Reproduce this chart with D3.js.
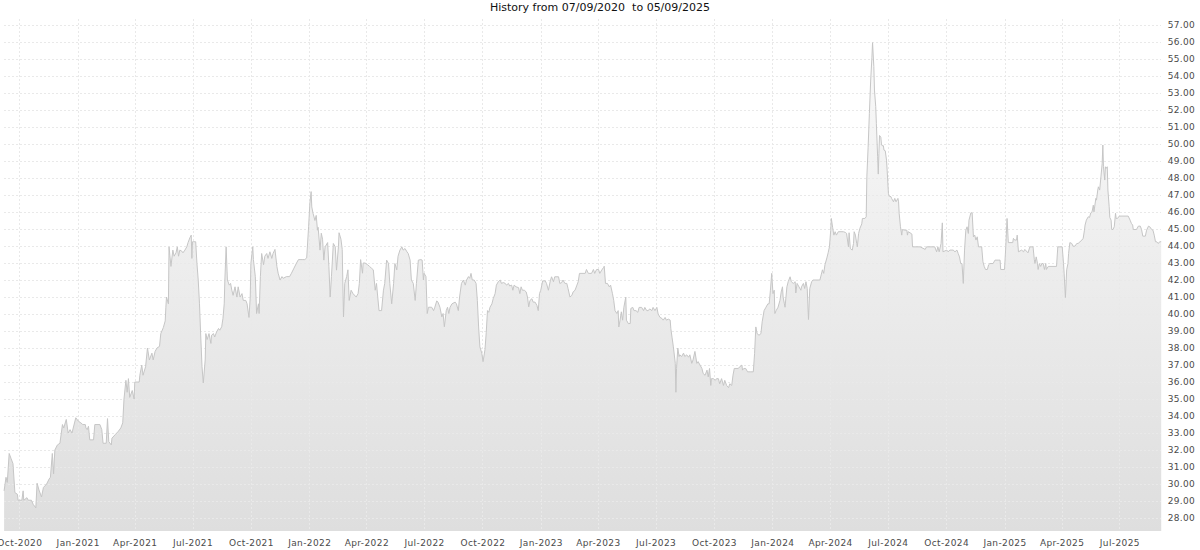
<!DOCTYPE html>
<html>
<head>
<meta charset="utf-8">
<script src="https://cdn.jsdelivr.net/npm/d3@7"></script>
<style>
html, body { margin: 0; padding: 0; background: #ffffff; }
svg { display: block; font-family: "DejaVu Sans", sans-serif; }
</style>
</head>
<body>
<svg id="chart" width="1200" height="550"></svg>
<script>
// ---------------- data ----------------
const title = "History from 07/09/2020  to 05/09/2025";
const startDate = "2020-09-07";
const endDate = "2025-09-05";

// days elapsed since startDate
const days = [
  0,3,5,8,11,14,17,21,22,28,30,31,36,38,43,46,50,52,55,59,62,67,71,73,76,78,80,84,88,92,
  94,98,101,104,107,113,117,121,124,128,129,131,133,135,141,143,151,154,156,161,163,165,169,170,175,180,184,187,189,192,
  194,196,198,202,205,206,213,214,217,219,223,226,229,233,235,238,241,245,247,251,254,255,256,259,260,263,266,268,271,273,
  275,277,280,282,285,288,290,293,295,296,297,302,304,306,308,310,312,314,317,318,320,323,326,327,330,332,335,338,340,343,
  345,347,348,350,352,355,357,359,361,364,367,369,372,375,377,381,383,386,388,389,392,393,396,398,401,402,404,406,409,411,
  414,416,419,422,424,427,430,432,435,438,440,445,450,453,457,461,464,468,471,474,477,480,482,484,485,487,490,492,494,495,
  498,500,502,504,506,510,512,514,516,519,522,524,527,528,531,533,535,537,540,542,544,547,550,555,558,560,562,565,566,569,
  573,576,579,582,585,587,591,595,598,600,603,606,608,611,614,616,619,621,624,627,629,632,635,637,640,642,645,648,650,653,
  657,659,661,662,665,667,669,674,677,679,682,684,687,690,692,694,697,699,701,703,706,711,713,716,718,721,724,727,729,732,
  734,736,738,741,744,746,748,750,753,755,758,760,762,764,766,769,771,774,776,779,782,784,787,790,792,795,797,800,802,804,
  807,811,813,815,817,820,823,825,827,829,832,834,837,840,842,844,846,849,853,855,858,861,863,866,868,874,876,879,881,884,
  887,889,892,895,897,900,903,905,907,916,918,921,926,929,931,934,937,939,942,945,946,948,951,954,956,959,961,963,966,968,
  969,971,973,975,977,980,981,984,987,988,991,993,996,999,1001,1005,1008,1010,1013,1015,1018,1021,1023,1026,1029,1031,1034,1037,1039,1042,
  1044,1047,1050,1051,1053,1055,1058,1059,1060,1062,1064,1065,1068,1071,1073,1076,1079,1081,1084,1086,1089,1092,1094,1097,1100,1102,1105,1108,1110,1112,
  1114,1115,1118,1121,1123,1126,1128,1131,1134,1136,1139,1142,1144,1147,1149,1151,1157,1160,1163,1164,1166,1169,1172,1176,1181,1183,1185,1187,1190,1193,
  1195,1198,1201,1204,1206,1208,1210,1212,1214,1215,1217,1220,1223,1225,1227,1228,1230,1231,1234,1236,1239,1241,1244,1247,1248,1250,1253,1256,1257,1260,
  1262,1264,1266,1268,1270,1273,1275,1286,1288,1290,1292,1294,1297,1299,1301,1303,1304,1306,1308,1310,1312,1315,1323,1326,1328,1331,1332,1334,1337,1339,
  1340,1342,1344,1345,1347,1349,1352,1353,1357,1359,1360,1362,1364,1366,1368,1369,1371,1372,1374,1375,1377,1378,1379,1380,1382,1383,1384,1386,1387,1389,
  1391,1392,1394,1395,1398,1399,1402,1404,1406,1409,1410,1411,1413,1415,1416,1420,1423,1424,1425,1428,1431,1432,1444,1452,1454,1467,1470,1472,1474,1477,
  1479,1480,1486,1488,1491,1496,1499,1502,1504,1506,1508,1510,1512,1514,1516,1518,1520,1521,1524,1526,1528,1530,1532,1534,1536,1541,1543,1545,1547,1550,
  1552,1554,1559,1562,1567,1570,1571,1577,1579,1581,1583,1590,1591,1593,1596,1597,1599,1604,1607,1609,1614,1617,1622,1624,1625,1627,1629,1630,1632,1634,
  1636,1638,1640,1642,1643,1646,1659,1661,1668,1670,1671,1673,1675,1677,1678,1680,1683,1685,1688,1691,1693,1696,1699,1701,1703,1704,1706,1709,1711,1713,
  1715,1717,1718,1721,1722,1724,1725,1727,1729,1731,1732,1733,1735,1736,1737,1739,1740,1742,1743,1745,1746,1748,1750,1752,1753,1755,1758,1772,1775,1777,
  1779,1780,1785,1788,1791,1793,1795,1799,1801,1804,1806,1809,1811,1813,1815,1817,1819,1822,1824
];

// closing prices
const prices = [
  29.6,30.4,30.1,31.8,31.5,31.2,29.5,29.4,29.05,29.05,29.6,29.05,29.2,29.05,29.05,28.8,28.6,30.05,29.65,29.24,29.8,30.0,30.3,30.4,31.8,30.6,32.0,32.3,32.4,33.5,
  33.3,33.8,33.0,33.2,33.0,33.9,33.7,33.6,33.5,33.5,33.3,33.2,33.4,32.6,32.6,33.5,33.5,33.2,32.4,32.4,33.85,32.5,32.3,32.7,32.9,33.1,33.3,33.6,35.0,36.1,
  35.4,36.2,35.1,35.5,35.0,36.0,36.0,36.4,37.0,36.4,36.9,38.0,37.3,37.7,37.3,37.8,38.0,38.1,38.85,39.2,39.6,40.4,41.0,40.6,43.95,42.8,43.76,43.4,43.6,43.95,
  43.4,43.76,43.7,43.6,43.76,43.95,44.2,44.5,44.64,43.27,44.25,44.25,42.97,42.0,40.6,38.65,36.9,35.95,37.3,38.85,38.5,38.85,38.27,38.75,38.85,38.65,38.95,39.15,39.05,39.25,
  39.74,40.6,42.0,43.95,42.0,41.7,41.8,41.4,41.1,41.6,41.0,41.6,41.0,41.2,40.8,40.8,40.6,39.8,41.0,42.97,43.95,43.2,42.2,40.03,40.6,40.03,42.2,43.56,42.9,43.4,
  43.56,43.27,43.66,43.27,43.56,43.8,42.8,42.4,42.0,42.2,42.1,42.2,42.2,42.4,42.7,43.0,43.2,43.2,43.2,43.2,43.3,45.13,46.5,47.2,46.3,45.92,45.5,45.8,44.93,45.1,
  43.76,44.75,44.4,43.17,43.95,44.2,42.8,41.0,42.2,44.15,43.95,42.58,43.95,44.78,44.4,43.8,39.83,41.8,42.2,42.6,40.8,41.4,41.2,41.0,41.2,41.8,43.2,42.4,43.0,43.0,
  42.9,42.8,42.7,42.6,41.4,41.8,40.2,40.2,41.4,41.8,43.17,42.97,41.8,40.6,41.8,42.97,42.6,43.4,43.76,43.95,43.76,43.85,43.66,43.56,43.17,42.0,41.8,40.8,41.8,43.17,
  43.2,43.17,42.0,42.4,42.2,40.03,40.4,40.4,40.2,40.4,40.77,40.7,40.4,39.83,40.03,39.25,40.2,40.4,40.03,40.4,40.6,40.7,40.6,40.2,41.0,41.8,42.0,41.7,42.0,42.2,
  42.1,42.39,42.0,42.0,41.8,40.8,39.24,38.07,37.7,37.2,37.9,38.9,40.2,40.1,40.4,40.6,40.9,41.2,41.7,41.9,42.0,41.8,41.85,41.8,41.7,41.8,41.65,41.7,41.4,41.7,
  41.6,41.55,41.2,41.6,41.4,41.4,41.3,41.0,40.42,40.8,40.9,40.7,40.7,40.5,40.2,41.2,41.4,41.95,41.95,41.8,41.4,41.95,42.19,41.9,42.19,42.19,41.8,41.85,42.0,41.8,
  41.8,41.5,41.0,41.1,41.3,41.4,41.7,41.9,42.39,42.39,42.62,42.39,42.39,42.62,42.39,42.62,42.62,42.39,42.58,42.74,42.81,41.8,41.8,41.6,41.7,41.2,40.8,40.2,40.03,40.2,
  39.24,39.64,40.13,39.64,40.4,41.0,39.64,39.44,39.44,40.33,40.39,40.2,40.2,40.1,40.39,40.39,40.2,40.39,40.2,40.2,40.3,40.2,40.39,40.2,40.39,40.0,39.8,39.74,39.64,39.8,
  39.64,39.7,39.64,39.15,38.6,38.07,37.1,35.4,36.8,38.0,37.5,37.6,37.5,37.7,37.5,37.6,37.46,37.6,37.1,37.3,37.8,37.1,37.2,37.0,36.8,36.5,36.4,36.7,36.3,36.8,
  35.8,36.2,36.2,36.1,36.2,36.2,35.9,36.2,35.8,36.1,35.8,35.67,35.9,35.8,36.4,36.8,36.8,36.9,37.0,36.7,36.8,36.8,36.6,36.6,36.6,37.67,39.24,38.85,38.75,38.85,
  39.54,40.2,40.4,40.6,40.6,41.4,42.39,41.2,41.4,40.03,40.2,40.4,40.8,41.3,41.6,41.0,40.6,40.4,41.6,41.9,42.19,41.9,41.8,41.9,41.24,41.8,41.6,41.4,41.6,41.8,
  41.5,41.9,41.5,39.68,41.5,41.9,42.0,42.0,42.3,42.6,42.39,42.9,43.3,43.6,43.95,44.9,45.62,45.1,44.64,44.84,44.64,44.84,44.84,44.8,44.74,43.95,44.78,43.85,43.76,44.15,
  44.84,44.64,44.15,43.95,44.74,45.03,45.3,45.62,45.62,45.72,48.07,49.8,51.8,53.7,55.1,55.96,54.55,53.17,52.2,51.2,49.25,48.23,49.44,50.5,50.4,50.0,49.9,49.9,49.64,49.6,
  49.05,48.46,47.1,46.94,46.9,46.8,46.6,46.8,46.6,46.8,46.6,45.9,45.13,44.64,44.97,44.93,44.93,44.64,44.84,44.78,44.7,43.95,43.95,43.8,43.95,43.95,43.66,43.95,43.66,44.15,
  45.36,43.66,43.76,43.66,43.76,43.76,43.66,43.76,43.56,43.36,42.97,42.97,41.8,43.76,44.93,45.13,44.74,45.52,45.95,45.95,44.54,44.64,44.35,44.54,43.95,43.95,43.07,42.8,42.62,42.62,
  42.9,42.97,42.97,43.17,43.17,43.17,42.62,42.62,43.95,45.62,44.2,44.2,44.45,44.35,44.35,44.64,43.66,43.76,43.66,43.8,43.6,43.95,43.95,43.2,42.97,43.36,42.97,42.62,42.97,42.8,
  42.97,42.97,42.62,42.97,42.62,42.8,42.8,43.95,43.95,42.97,42.4,40.97,42.6,42.97,43.56,44.2,44.15,43.99,43.99,44.15,44.15,44.25,44.35,44.45,44.93,45.23,45.52,45.72,45.68,45.95,
  46.01,46.4,46.01,46.8,46.7,47.29,47.48,47.29,48.07,48.86,49.94,48.66,47.88,48.66,48.56,48.66,47.29,46.31,45.68,45.52,44.97,44.97,45.13,45.92,45.62,45.62,45.76,45.76,45.52,45.33,
  45.23,44.97,44.97,45.17,45.17,44.97,44.58,44.58,44.93,45.17,45.13,44.97,44.93,44.64,44.25,44.25,44.15,44.25,44.25
];

// price axis tick values
const yTickValues = [28,29,30,31,32,33,34,35,36,37,38,39,40,41,42,43,44,45,46,47,48,49,50,51,52,53,54,55,56,57];

// ---------------- chart ----------------
const W = 1200, H = 550;
const plot = { left: 4.1, right: 1161.2, top: 19, bottom: 531 };

const parse = d3.utcParse("%Y-%m-%d");
const t0 = parse(startDate), t1 = parse(endDate);
const data = days.map((d, i) => ({ date: d3.utcDay.offset(t0, d), value: prices[i] }));

const x = d3.scaleUtc().domain([t0, t1]).range([plot.left, plot.right]);
const y = d3.scaleLinear().domain([27.24, 57.35]).range([plot.bottom, plot.top]);

const svg = d3.select("#chart");

const defs = svg.append("defs");
const grad = defs.append("linearGradient")
  .attr("id", "areaGrad")
  .attr("gradientUnits", "userSpaceOnUse")
  .attr("x1", 0).attr("x2", 0)
  .attr("y1", plot.top).attr("y2", plot.bottom);
grad.append("stop").attr("offset", "0%").attr("stop-color", "#fbfbfb");
grad.append("stop").attr("offset", "100%").attr("stop-color", "#dedede");

// area + line
const area = d3.area()
  .x(d => x(d.date))
  .y0(y.range()[0])
  .y1(d => y(d.value));
const line = d3.line()
  .x(d => x(d.date))
  .y(d => y(d.value));

svg.append("path")
  .datum(data)
  .attr("d", area)
  .attr("fill", "url(#areaGrad)");

// grid
const xTicks = x.ticks(d3.utcMonth.every(3));
const grid = svg.append("g").attr("class", "grid")
  .attr("stroke", "#e9e9e9")
  .attr("stroke-width", 1)
  .attr("stroke-dasharray", "2,2")
  .attr("shape-rendering", "crispEdges");
grid.selectAll("line.h")
  .data(yTickValues)
  .join("line")
  .attr("class", "h")
  .attr("x1", plot.left).attr("x2", plot.right)
  .attr("y1", d => Math.round(y(d)) + 0.5)
  .attr("y2", d => Math.round(y(d)) + 0.5);
grid.selectAll("line.v")
  .data(xTicks)
  .join("line")
  .attr("class", "v")
  .attr("y1", plot.top).attr("y2", plot.bottom)
  .attr("x1", d => Math.round(x(d)) + 0.5)
  .attr("x2", d => Math.round(x(d)) + 0.5);

svg.append("path")
  .datum(data)
  .attr("d", line)
  .attr("fill", "none")
  .attr("stroke", "#c6c6c6")
  .attr("stroke-width", 1)
  .attr("stroke-linejoin", "round");

// axes
const xAxis = d3.axisBottom(x)
  .tickValues(xTicks)
  .tickFormat(d3.utcFormat("%b-%Y"))
  .tickSize(0)
  .tickPadding(9);
const gx = svg.append("g")
  .attr("transform", `translate(0,${plot.bottom})`)
  .call(xAxis);
gx.select(".domain").remove();
gx.selectAll("text")
  .attr("fill", "#4a4a4a")
  .style("font-family", "'DejaVu Sans', sans-serif")
  .style("font-size", "9px")
  .style("letter-spacing", "0.4px");

const yAxis = d3.axisRight(y)
  .tickValues(yTickValues)
  .tickFormat(d3.format(".2f"))
  .tickSize(0)
  .tickPadding(6.5);
const gy = svg.append("g")
  .attr("transform", `translate(${plot.right},0)`)
  .call(yAxis);
gy.select(".domain").remove();
gy.selectAll("text")
  .attr("fill", "#4a4a4a")
  .style("font-family", "'DejaVu Sans', sans-serif")
  .style("font-size", "9px")
  .style("letter-spacing", "0.3px");

// title
svg.append("text")
  .attr("x", W / 2)
  .attr("y", 11)
  .attr("text-anchor", "middle")
  .attr("xml:space", "preserve")
  .style("white-space", "pre")
  .style("font-family", "'DejaVu Sans', sans-serif")
  .style("font-size", "11px")
  .attr("fill", "#111")
  .text(title);
</script>
</body>
</html>
